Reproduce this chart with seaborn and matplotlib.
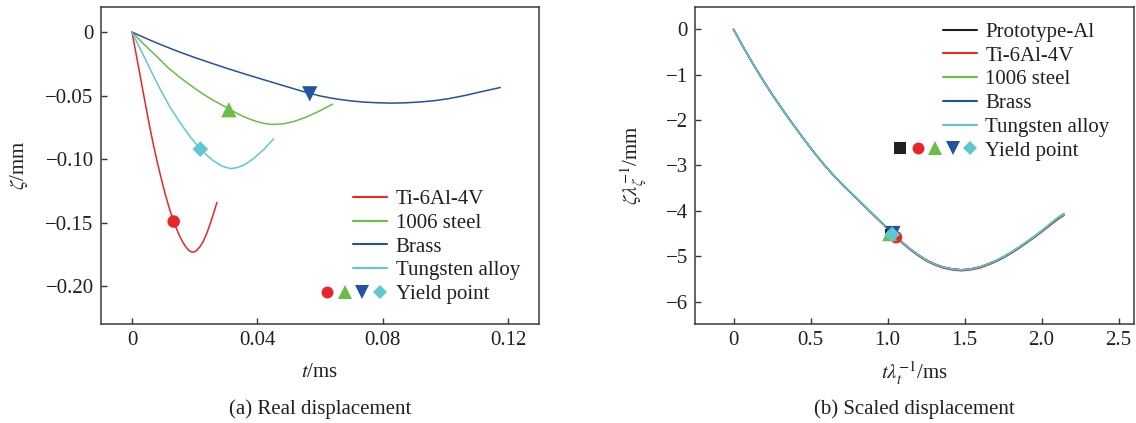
import numpy as np
import pandas as pd
import matplotlib
matplotlib.use("Agg")
import matplotlib.pyplot as plt
import seaborn as sns
from matplotlib.lines import Line2D
from matplotlib.legend_handler import HandlerBase

# ---------------- data: (a) real displacement ----------------
ti_t = [0, 0.0008, 0.0016, 0.0025, 0.0034, 0.0044, 0.0054, 0.0066, 0.0078, 0.0092, 0.0106, 0.0120,
        0.0133, 0.0143, 0.0152, 0.0161, 0.0170, 0.0180, 0.0189, 0.0197, 0.0206, 0.0216, 0.0227,
        0.0240, 0.0254, 0.0263, 0.0271]
ti_z = [0, -0.0106, -0.0211, -0.0330, -0.0450, -0.0583, -0.0713, -0.0860, -0.0995, -0.1140, -0.1275, -0.1395,
        -0.1490, -0.1555, -0.1605, -0.1648, -0.1685, -0.1715, -0.1730, -0.1732, -0.1720, -0.1692, -0.1650,
        -0.1575, -0.1475, -0.1405, -0.1340]

st_t = [0, 0.0040, 0.0080, 0.0115, 0.0153, 0.0190, 0.0225, 0.0260, 0.0296, 0.0339, 0.0370, 0.0397,
        0.0420, 0.0445, 0.0480, 0.0514, 0.0555, 0.0599, 0.0640]
st_z = [0, -0.0100, -0.0195, -0.0280, -0.0357, -0.0425, -0.0485, -0.0538, -0.0586, -0.0645, -0.0680, -0.0703,
        -0.0718, -0.0727, -0.0723, -0.0706, -0.0670, -0.0620, -0.0567]

br_t = [0, 0.0050, 0.0100, 0.0150, 0.0200, 0.0250, 0.0300, 0.0350, 0.0400, 0.0450, 0.0500, 0.0538,
        0.0567, 0.0601, 0.0635, 0.0665, 0.0700, 0.0740, 0.0780, 0.0825, 0.0870, 0.0920, 0.0964,
        0.1010, 0.1060, 0.1113, 0.1175]
br_z = [0, -0.0055, -0.0107, -0.0155, -0.0200, -0.0242, -0.0283, -0.0322, -0.0360, -0.0397, -0.0434, -0.0462,
        -0.0482, -0.0503, -0.0519, -0.0531, -0.0542, -0.0551, -0.0556, -0.0559, -0.0557, -0.0550, -0.0540,
        -0.0524, -0.0500, -0.0470, -0.0436]

tu_t = [0, 0.0020, 0.0040, 0.0064, 0.0088, 0.0120, 0.0153, 0.0186, 0.0219, 0.0240, 0.0260, 0.0287,
        0.0313, 0.0335, 0.0360, 0.0388, 0.0420, 0.0452]
tu_z = [0, -0.0102, -0.0200, -0.0322, -0.0440, -0.0585, -0.0712, -0.0825, -0.0921, -0.0972, -0.1013, -0.1055,
        -0.1074, -0.1068, -0.1043, -0.0995, -0.0925, -0.0840]

yield_t = [0.0133, 0.0309, 0.0567, 0.0218]
yield_z = [-0.1491, -0.0611, -0.0486, -0.0921]

# ---------------- data: (b) scaled displacement ----------------
sc_t = [0, 0.065, 0.13, 0.195, 0.26, 0.325, 0.39, 0.455, 0.52, 0.585, 0.65, 0.715, 0.78, 0.84, 0.90,
        0.965, 1.03, 1.085, 1.14, 1.195, 1.25, 1.305, 1.36, 1.42, 1.48, 1.54, 1.60, 1.655, 1.71,
        1.76, 1.81, 1.86, 1.91, 1.96, 2.01, 2.06, 2.10, 2.145]
sc_z_proto = [0, -0.40, -0.78, -1.14, -1.48, -1.80, -2.11, -2.41, -2.70, -2.97, -3.22, -3.45, -3.66, -3.86, -4.06,
              -4.27, -4.48, -4.66, -4.82, -4.96, -5.08, -5.17, -5.24, -5.28, -5.30, -5.28, -5.24, -5.17, -5.09,
              -5.00, -4.90, -4.79, -4.67, -4.55, -4.42, -4.28, -4.17, -4.07]
sc_z_ti = [0, -0.40, -0.78, -1.14, -1.48, -1.80, -2.11, -2.41, -2.70, -2.97, -3.22, -3.45, -3.66, -3.86, -4.07,
           -4.28, -4.50, -4.68, -4.84, -4.98, -5.10, -5.19, -5.26, -5.30, -5.32, -5.30, -5.26, -5.19, -5.11,
           -5.02, -4.92, -4.81, -4.69, -4.57, -4.44, -4.31, -4.20, -4.10]
sc_z_st = [0, -0.40, -0.78, -1.14, -1.48, -1.80, -2.11, -2.41, -2.70, -2.97, -3.22, -3.45, -3.66, -3.86, -4.06,
           -4.27, -4.48, -4.66, -4.82, -4.96, -5.08, -5.17, -5.24, -5.28, -5.30, -5.28, -5.23, -5.16, -5.08,
           -4.99, -4.89, -4.78, -4.66, -4.54, -4.41, -4.27, -4.16, -4.06]
sc_z_br = [0, -0.40, -0.78, -1.14, -1.48, -1.80, -2.11, -2.41, -2.70, -2.97, -3.22, -3.45, -3.66, -3.86, -4.06,
           -4.27, -4.48, -4.66, -4.82, -4.96, -5.08, -5.17, -5.24, -5.28, -5.30, -5.28, -5.24, -5.17, -5.10,
           -5.01, -4.91, -4.80, -4.68, -4.56, -4.43, -4.29, -4.18, -4.09]
sc_z_tu = [0, -0.40, -0.78, -1.14, -1.48, -1.80, -2.11, -2.41, -2.70, -2.97, -3.22, -3.45, -3.66, -3.86, -4.06,
           -4.27, -4.48, -4.66, -4.82, -4.96, -5.08, -5.17, -5.24, -5.28, -5.30, -5.28, -5.24, -5.17, -5.09,
           -5.00, -4.90, -4.79, -4.67, -4.55, -4.42, -4.28, -4.17, -4.08]

sc_yield_t = [1.025, 1.055, 1.015, 1.035, 1.030]
sc_yield_z = [-4.54, -4.58, -4.50, -4.50, -4.52]

names_a = ["Ti-6Al-4V", "1006 steel", "Brass", "Tungsten alloy"]
names_b = ["Prototype-Al", "Ti-6Al-4V", "1006 steel", "Brass", "Tungsten alloy"]
yield_label = "Yield point"

a_xticks = [0, 0.04, 0.08, 0.12]
a_xticklabels = ["0", "0.04", "0.08", "0.12"]
a_yticks = [0, -0.05, -0.10, -0.15, -0.20]
a_yticklabels = ["0", "\u22120.05", "\u22120.10", "\u22120.15", "\u22120.20"]
b_xticks = [0, 0.5, 1.0, 1.5, 2.0, 2.5]
b_xticklabels = ["0", "0.5", "1.0", "1.5", "2.0", "2.5"]
b_yticks = [0, -1, -2, -3, -4, -5, -6]
b_yticklabels = ["0", "\u22121", "\u22122", "\u22123", "\u22124", "\u22125", "\u22126"]

# ---------------- style ----------------
sns.set_theme(style="white")
FS = 15
plt.rcParams["font.family"] = ["Liberation Serif", "DejaVu Serif"]
plt.rcParams["mathtext.fontset"] = "stix"

C_BLACK = "#231F20"
C_RED = "#E8262A"
C_GREEN = "#6ABD45"
C_BLUE = "#2152A3"
C_CYAN = "#62C6D2"
C_TEXT = "#231F20"
C_AX = "#3a3a3a"

colors_a = [C_RED, C_GREEN, C_BLUE, C_CYAN]
colors_b = [C_BLACK, C_RED, C_GREEN, C_BLUE, C_CYAN]
markers_a = ["o", "^", "v", "D"]
markers_b = ["s", "o", "^", "v", "D"]
msize = {"o": 9, "^": 11, "v": 11, "D": 8, "s": 8.5}
LW = 1.1

fig = plt.figure(figsize=(11.36, 4.23), dpi=100)
axA = fig.add_axes([0.0886, 0.2333, 0.3863, 0.7509])
axB = fig.add_axes([0.6118, 0.2333, 0.3864, 0.7509])


class MarkerRow(HandlerBase):
    def __init__(self, specs, spacing=12.7, right_pad=5.0):
        super().__init__()
        self.specs = specs
        self.spacing = spacing
        self.right_pad = right_pad

    def create_artists(self, legend, orig_handle, xdescent, ydescent, width, height, fontsize, trans):
        arts = []
        n = len(self.specs)
        y = height / 2.0 - ydescent
        for i, (m, c) in enumerate(self.specs):
            x = width - xdescent - self.right_pad - (n - 1 - i) * self.spacing
            ln = Line2D([x], [y], marker=m, color=c, markersize=msize[m] * 0.95,
                        linestyle="none", markeredgewidth=0, transform=trans)
            arts.append(ln)
        return arts


class YieldHandle:
    pass


def style_axes(ax):
    for s in ax.spines.values():
        s.set_visible(True)
        s.set_color(C_AX)
        s.set_linewidth(1.1)
    ax.tick_params(axis="both", which="both", direction="in", length=4, width=1.0,
                   color=C_AX, labelsize=FS, pad=5, top=False, right=False,
                   left=True, bottom=True, labelcolor=C_TEXT)


# ---------------- panel (a) ----------------
series_a = [(ti_t, ti_z), (st_t, st_z), (br_t, br_z), (tu_t, tu_z)]
for (tt, zz), c in zip(series_a, colors_a):
    sns.lineplot(x=tt, y=zz, ax=axA, color=c, lw=LW, sort=False, estimator=None, legend=False)
for xt, yz, c, m in zip(yield_t, yield_z, colors_a, markers_a):
    sns.scatterplot(x=[xt], y=[yz], ax=axA, marker=m, color=c, s=msize[m] ** 2,
                    linewidth=0, edgecolor="none", zorder=4, legend=False)

axA.set_xlim(-0.01, 0.13)
axA.set_ylim(-0.23, 0.02)
axA.set_xticks(a_xticks)
axA.set_xticklabels(a_xticklabels)
axA.set_yticks(a_yticks)
axA.set_yticklabels(a_yticklabels)
style_axes(axA)
axA.set_xlabel(r"$t$/ms", fontsize=FS, color=C_TEXT)
axA.set_ylabel(r"$\zeta$/mm", fontsize=FS, color=C_TEXT)
axA.xaxis.set_label_coords(0.5, -0.122)
axA.yaxis.set_label_coords(-0.162, 0.5)

handles_a = [Line2D([], [], color=c, lw=1.5) for c in colors_a]
yh_a = YieldHandle()
legA = axA.legend(handles_a + [yh_a], names_a + [yield_label], loc="upper left",
                  bbox_to_anchor=(0.575, 0.424), frameon=False, fontsize=FS,
                  borderpad=0, borderaxespad=0, handlelength=1.63, handletextpad=0.42,
                  labelspacing=0.2,
                  handler_map={YieldHandle: MarkerRow(list(zip(markers_a, colors_a)))})
for t in legA.get_texts():
    t.set_color(C_TEXT)

axA.text(0.5, -0.266, "(a) Real displacement", transform=axA.transAxes, ha="center",
         va="center", fontsize=FS, color=C_TEXT)

# ---------------- panel (b) ----------------
series_b = [sc_z_proto, sc_z_ti, sc_z_st, sc_z_br, sc_z_tu]
for zz, c in zip(series_b, colors_b):
    sns.lineplot(x=sc_t, y=zz, ax=axB, color=c, lw=LW, sort=False, estimator=None, legend=False)
for xt, yz, c, m in zip(sc_yield_t, sc_yield_z, colors_b, markers_b):
    sns.scatterplot(x=[xt], y=[yz], ax=axB, marker=m, color=c, s=msize[m] ** 2,
                    linewidth=0, edgecolor="none", zorder=4, legend=False)

axB.set_xlim(-0.25, 2.6)
axB.set_ylim(-6.5, 0.5)
axB.set_xticks(b_xticks)
axB.set_xticklabels(b_xticklabels)
axB.set_yticks(b_yticks)
axB.set_yticklabels(b_yticklabels)
style_axes(axB)
axB.set_xlabel(r"$t\lambda_t^{-1}$/ms", fontsize=FS, color=C_TEXT)
axB.set_ylabel(r"$\zeta\lambda_\zeta^{-1}$/mm", fontsize=FS, color=C_TEXT)
axB.xaxis.set_label_coords(0.5, -0.112)
axB.yaxis.set_label_coords(-0.105, 0.5)

handles_b = [Line2D([], [], color=c, lw=1.5) for c in colors_b]
yh_b = YieldHandle()
legB = axB.legend(handles_b + [yh_b], names_b + [yield_label], loc="upper left",
                  bbox_to_anchor=(0.5656, 0.951), frameon=False, fontsize=FS,
                  borderpad=0, borderaxespad=0, handlelength=1.63, handletextpad=0.38,
                  labelspacing=0.2,
                  handler_map={YieldHandle: MarkerRow(list(zip(markers_b, colors_b)), spacing=12.5, right_pad=5.3)})
for t in legB.get_texts():
    t.set_color(C_TEXT)

axB.text(0.5, -0.266, "(b) Scaled displacement", transform=axB.transAxes, ha="center",
         va="center", fontsize=FS, color=C_TEXT)

fig.savefig("out.png", dpi=100)
